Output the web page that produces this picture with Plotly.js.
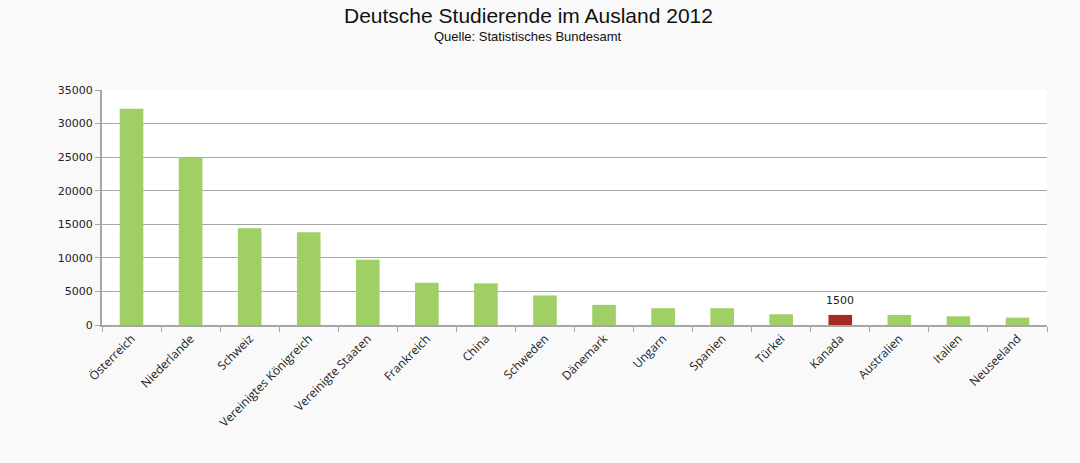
<!DOCTYPE html>
<html>
<head>
<meta charset="utf-8">
<script src="https://cdn.plot.ly/plotly-3.0.1.min.js"></script>
<style>html,body{margin:0;padding:0;background:#f9f9f9;}#chart{width:1080px;height:463px;}</style>
</head>
<body>
<div id="chart"></div>
<script>
const countries = ["Österreich","Niederlande","Schweiz","Vereinigtes Königreich","Vereinigte Staaten","Frankreich","China","Schweden","Dänemark","Ungarn","Spanien","Türkei","Kanada","Australien","Italien","Neuseeland"];
const students = [32200,25000,14400,13800,9700,6300,6200,4400,3000,2500,2500,1600,1500,1500,1300,1100];
const highlight = "Kanada";
const yTicks = [0,5000,10000,15000,20000,25000,30000,35000];
const titleText = "Deutsche Studierende im Ausland 2012";
const subtitleText = "Quelle: Statistisches Bundesamt";

const colors = countries.map(c => c === highlight ? "#a52a24" : "#9fcf65");
const hi = countries.indexOf(highlight);

const plotW = 1080 - 102 - 33, plotH = 463 - 90 - 138;
const cx = (528 - 102) / plotW;

const trace = {
  type: "bar",
  x: countries,
  y: students,
  marker: {color: colors, line: {width: 0}},
  hoverinfo: "x+y"
};

const layout = {
  width: 1080, height: 463,
  paper_bgcolor: "#f9f9f9",
  plot_bgcolor: "#ffffff",
  margin: {l: 102, r: 33, t: 90, b: 138},
  bargap: 0.6,
  showlegend: false,
  annotations: [
    {text: titleText, xref: "paper", yref: "paper", x: cx, y: (463 - 138 - 29) / plotH,
     xanchor: "center", yanchor: "bottom", showarrow: false,
     font: {family: "Liberation Sans, Arial", size: 21, color: "#111"}},
    {text: subtitleText, xref: "paper", yref: "paper", x: cx, y: (463 - 138 - 46) / plotH,
     xanchor: "center", yanchor: "bottom", showarrow: false,
     font: {family: "Liberation Sans, Arial", size: 13, color: "#111"}},
    {text: String(students[hi]), x: highlight, y: students[hi], xref: "x", yref: "y",
     yanchor: "bottom", yshift: 6, showarrow: false,
     font: {family: "DejaVu Sans", size: 11, color: "#222"}}
  ],
  xaxis: {
    type: "category",
    tickangle: -45,
    tickfont: {family: "Open Sans, Liberation Sans", size: 12, color: "#222"},
    showline: true, linecolor: "#a6a6a6", linewidth: 2,
    ticks: "outside", ticklen: 5, tickcolor: "#a6a6a6", tickson: "boundaries",
    showgrid: false
  },
  yaxis: {
    range: [0, 35000],
    tickvals: yTicks,
    ticktext: yTicks.map(String),
    tickfont: {family: "DejaVu Sans", size: 11, color: "#222"},
    showline: true, linecolor: "#a6a6a6", linewidth: 2,
    ticks: "outside", ticklen: 5, tickcolor: "#a6a6a6",
    showgrid: true, gridcolor: "#a6a6a6", gridwidth: 1,
    zeroline: false
  }
};

Plotly.newPlot("chart", [trace], layout, {displayModeBar: false, staticPlot: true});
</script>
</body>
</html>
